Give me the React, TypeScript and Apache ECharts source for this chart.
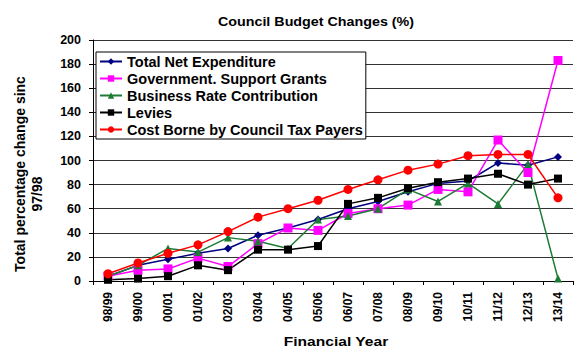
import React, { useEffect, useRef } from "react";
import * as echarts from "echarts";

const categories = ["98/99", "99/00", "00/01", "01/02", "02/03", "03/04", "04/05", "05/06", "06/07", "07/08", "08/09", "09/10", "10/11", "11/12", "12/13", "13/14"];
const totalNetExpenditure = [4, 13, 18, 23, 27, 38, 44, 51, 60, 66, 74, 81, 83, 98, 96, 103];
const governmentSupportGrants = [4, 9, 10, 19, 12, 31, 44, 42, 56, 60, 63, 76, 74, 117, 90, 183];
const businessRateContribution = [4, 13, 27, 24, 36, 33, 27, 51, 54, 60, 76, 66, 81, 64, 97, 2];
const levies = [1, 2, 4, 13, 9, 26, 26, 29, 64, 69, 77, 82, 85, 89, 80, 85];
const costBorneByCouncilTaxPayers = [6, 15, 23, 30, 41, 53, 60, 67, 76, 84, 92, 97, 104, 105, 105, 69];

const FONT = 'Arial, "Liberation Sans", sans-serif';

export default function App() {
  const ref = useRef<HTMLDivElement>(null);
  useEffect(() => {
    if (!ref.current) return;
    document.body.style.margin = "0";
    const chart = echarts.init(ref.current, null, { renderer: "svg" });
    const mk = (name: string, data: number[], color: string, symbol: string, size: number) => ({
      name,
      type: "line",
      data,
      symbol,
      symbolSize: size,
      showAllSymbol: true,
      lineStyle: { color, width: 1.5 },
      itemStyle: { color, borderWidth: 0 },
      emphasis: { disabled: true },
    });
    chart.setOption({
      animation: false,
      backgroundColor: "#fff",
      textStyle: { fontFamily: FONT },
      grid: { left: 93, right: 13, top: 40, bottom: 79, containLabel: false },
      legend: {
        orient: "vertical",
        left: 96,
        top: 52,
        padding: [2, 3, 2, 3],
        itemGap: 2,
        itemWidth: 22,
        itemHeight: 8,
        itemTextGap: 4,
        backgroundColor: "#fff",
        borderColor: "#000",
        borderWidth: 1,
        borderRadius: 0,
        textStyle: { fontSize: 14.5, fontWeight: "bold", color: "#000", fontFamily: FONT, lineHeight: 14 },
        data: [
          "Total Net Expenditure",
          "Government. Support Grants",
          "Business Rate Contribution",
          "Levies",
          "Cost Borne by Council Tax Payers",
        ],
      },
      graphic: [
        {
          type: "text",
          x: 316,
          y: 22,
          scaleX: 1.1,
          style: {
            text: "Council Budget Changes (%)",
            font: `bold 13px ${FONT}`,
            fill: "#000",
            align: "center",
            verticalAlign: "middle",
          },
        },
        {
          type: "text",
          x: 336,
          y: 342,
          scaleX: 1.3,
          style: {
            text: "Financial Year",
            font: `bold 12px ${FONT}`,
            fill: "#000",
            align: "center",
            verticalAlign: "middle",
          },
        },
        {
          type: "text",
          x: 20,
          y: 174,
          rotation: Math.PI / 2,
          style: {
            text: "Total percentage change sinc",
            font: `bold 14px ${FONT}`,
            fill: "#000",
            align: "center",
            verticalAlign: "middle",
          },
        },
        {
          type: "text",
          x: 37,
          y: 194,
          rotation: Math.PI / 2,
          style: {
            text: "97/98",
            font: `bold 14px ${FONT}`,
            fill: "#000",
            align: "center",
            verticalAlign: "middle",
          },
        },
      ],
      xAxis: {
        type: "category",
        data: categories,
        boundaryGap: true,
        axisLine: { lineStyle: { color: "#000", width: 1 } },
        axisTick: { show: true, alignWithLabel: false, length: 4, lineStyle: { color: "#000" } },
        axisLabel: { rotate: 90, margin: 11, fontSize: 12, fontWeight: "bold", color: "#000", fontFamily: FONT, interval: 0 },
        splitLine: { show: false },
      },
      yAxis: {
        type: "value",
        min: 0,
        max: 200,
        interval: 20,
        axisLine: { show: true, lineStyle: { color: "#000", width: 1 } },
        axisTick: { show: true, length: 4, lineStyle: { color: "#000" } },
        axisLabel: { margin: 12, fontSize: 12.5, fontWeight: "bold", color: "#000", fontFamily: FONT },
        splitLine: { show: true, lineStyle: { color: "#333", width: 1 } },
      },
      series: [
        mk("Total Net Expenditure", totalNetExpenditure, "#000080", "diamond", 8),
        mk("Government. Support Grants", governmentSupportGrants, "#FF00FF", "rect", 9),
        mk("Business Rate Contribution", businessRateContribution, "#1E7B35", "triangle", 8),
        mk("Levies", levies, "#000000", "rect", 8),
        mk("Cost Borne by Council Tax Payers", costBorneByCouncilTaxPayers, "#FF0000", "circle", 9),
      ],
    });
    return () => chart.dispose();
  }, []);
  return <div ref={ref} style={{ width: 586, height: 360 }} />;
}
